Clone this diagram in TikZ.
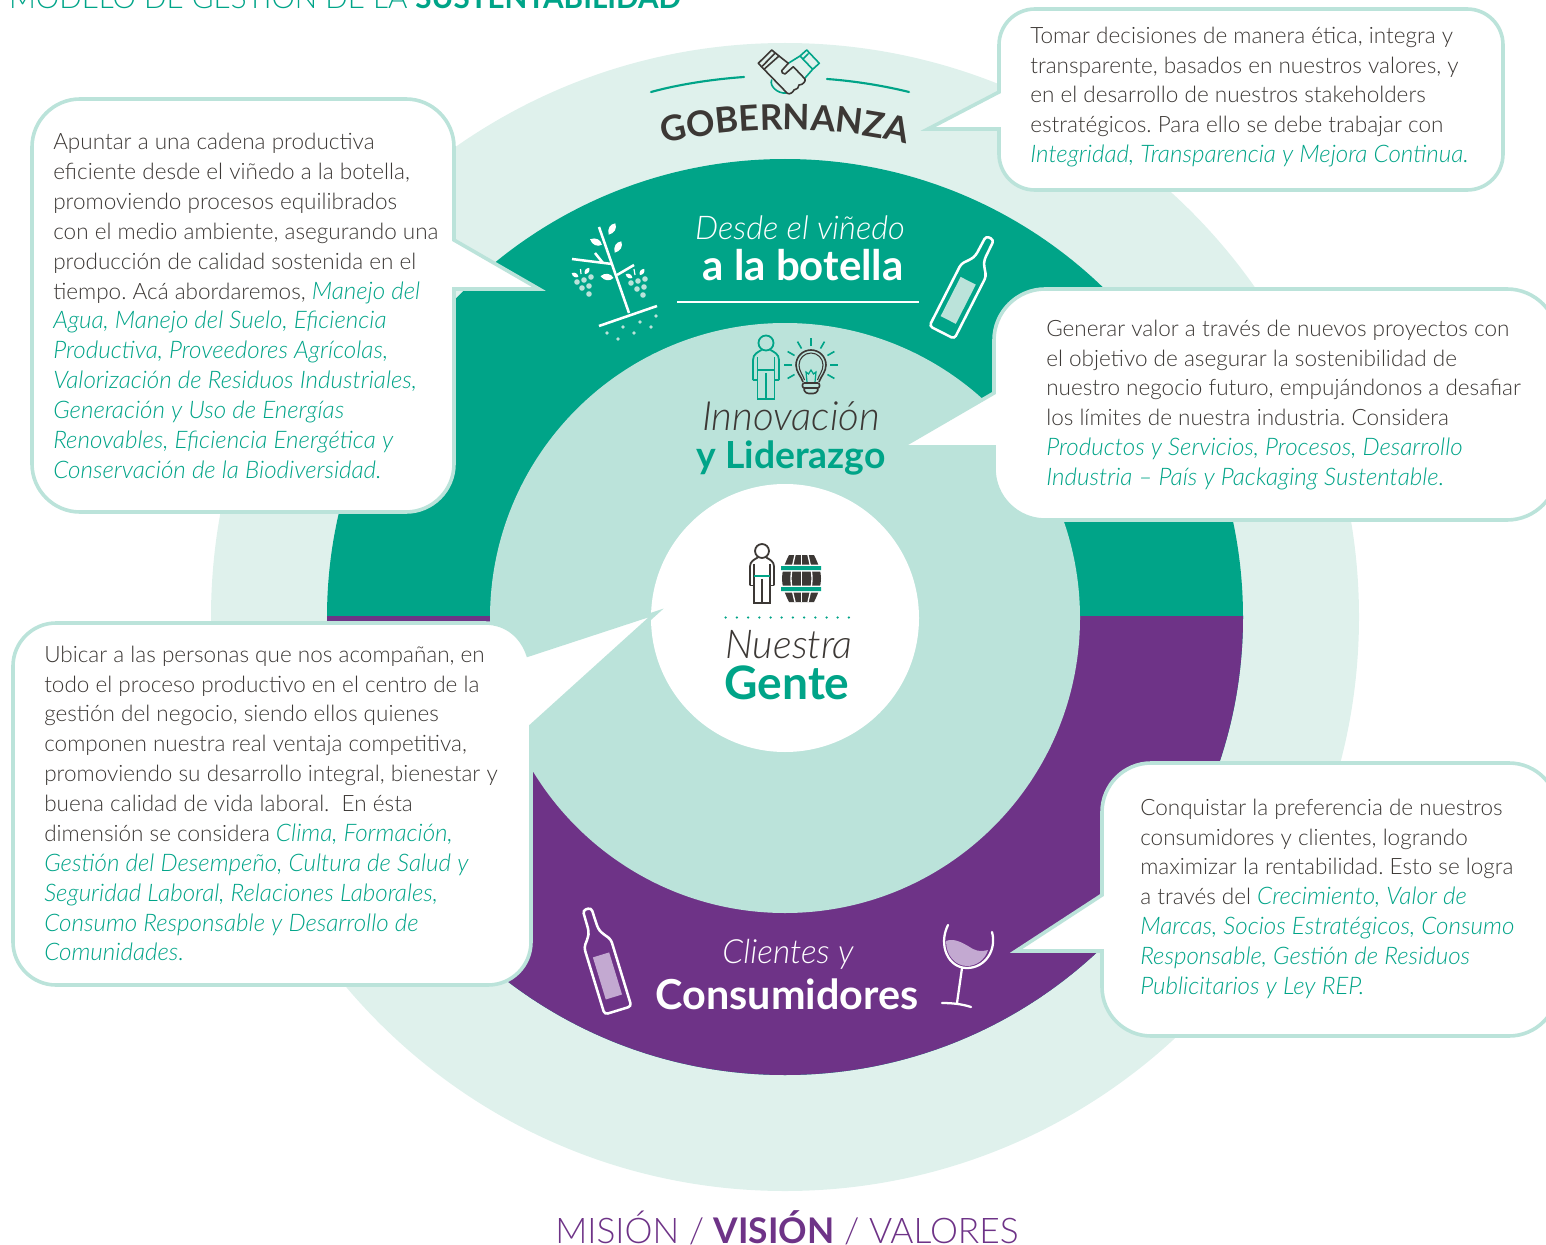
\documentclass[tikz,border=0pt]{standalone}
\usepackage{fontspec}
\usetikzlibrary{decorations.text}
\setmainfont{Lato}
\newfontfamily\lightf{Lato Light}[ItalicFont={Lato Light Italic}]
\newfontfamily\boldf{Lato}[UprightFont=*-Bold]
\definecolor{pale}{HTML}{DFF1EC}
\definecolor{mint}{HTML}{BBE3DA}
\definecolor{teal}{HTML}{00A488}
\definecolor{plum}{HTML}{6E3387}
\definecolor{ink}{HTML}{3C3835}
\definecolor{lilac}{HTML}{C3A9D1}
\frenchspacing
\newcommand{\tl}[1]{{\color{teal}\itshape\fontsize{18.15pt}{22.4pt}\selectfont #1}}
\newcommand{\hs}{\rule{0pt}{20pt}}
\newcommand{\leaflet}[4]{\fill[#4,shift={(#1,#2)},rotate=#3] (-6.5,0) .. controls (-2.5,-4.4) and (3.5,-4.2) .. (6.5,0) .. controls (3.5,4.2) and (-2.5,4.4) .. (-6.5,0) -- cycle;}
\newcommand{\smallleaf}[4]{\fill[#4,shift={(#1,#2)},rotate=#3] (-3.8,0) .. controls (-1.5,-2.8) and (2,-2.6) .. (3.8,0) .. controls (2,2.6) and (-1.5,2.8) .. (-3.8,0) -- cycle;}
\newcommand{\bottleicon}[5]{%
 \begin{scope}[shift={(#1,#2)},rotate=#3]
  \draw[#4,line width=1.9pt,rounded corners=2.5pt,fill=none] (-4.4,0) -- (4.4,0) -- (4.8,22) -- (7,27) -- (14,36) -- (14,106) -- (-14,106) -- (-14,36) -- (-7,27) -- (-4.8,22) -- cycle;
  \fill[#5] (-8.5,48) rectangle (8.5,92);
 \end{scope}}
\newcommand{\personicon}[5]{%
 \begin{scope}[shift={(#1,#2)},scale=#3,#4,line width=1.35pt,fill=none]
  \draw (0,0) circle (7.5);
  \draw (-13,37) -- (-13,17) .. controls (-13,11) and (-8,9) .. (-4.5,7) (4.5,7) .. controls (8,9) and (13,11) .. (13,17) -- (13,37);
  \draw (-13,37) -- (-8.5,37) (13,37) -- (8.5,37);
  \draw (-8.5,14) -- (-8.5,56) -- (8.5,56) -- (8.5,14);
  \draw (0,30) -- (0,56);
  \draw[#5,line width=1.6pt] (-8.5,27) -- (8.5,27);
 \end{scope}}
\tikzset{
  callout/.style={fill=white,draw=mint,line width=2.7pt,line join=miter,miter limit=12},
  bodytext/.style={anchor=north west,inner sep=0pt,align=left,text=ink,font=\lightf\fontsize{16.9pt}{22.4pt}\selectfont},
  heading/.style={anchor=base,inner sep=0pt},
  thinital/.style={font=\lightf\itshape\fontsize{24.5pt}{28pt}\selectfont},
}
\begin{document}
\begin{tikzpicture}[x=0.75pt,y=-0.75pt]
\useasboundingbox (0,0) rectangle (1546,1245);
% discs
\fill[pale] (785,617) circle (574);
\fill[teal] (785,617) circle (458);
\begin{scope}
 \clip (300,616) rectangle (1300,1100);
 \fill[plum] (785,617) circle (458);
\end{scope}
\fill[mint] (785,618) circle (295);
\fill[white] (785,618) circle (134);
% title texts
\node[heading,text=teal,font=\lightf\fontsize{22.2pt}{26pt}\selectfont] (title) at (345,9) {MODELO DE GESTIÓN DE LA {\boldf SUSTENTABILIDAD}};
\node[heading,text=plum,font=\lightf\fontsize{26.5pt}{30pt}\selectfont] (mvv) at (787,1243) {MISIÓN / {\boldf VISIÓN} / VALORES};
% gobernanza
\draw[teal,line width=1.6pt,line cap=round] (651,92) .. controls (680,84) and (715,79) .. (744,77);
\draw[teal,line width=1.6pt,line cap=round] (827,79) .. controls (855,81) and (885,86) .. (909,92);
\path[decorate,decoration={text along path,text color=ink,text align=center,text={|\boldf\fontsize{26.5pt}{30pt}\selectfont|GOBERNANZA}}] (650,148) .. controls (725,124) and (845,124) .. (920,148);
% handshake
\begin{scope}[line width=1.2pt,line join=round,line cap=round]
 \draw[teal] (800,56) -- (806.7,50) -- (819.3,63.3) -- (812.7,69.3) -- cycle (803,59) -- (808,54) (812.7,69.3) -- (805,78) (800,56) -- (788.3,63.3);
 \draw[teal] (771.7,80) .. controls (769,86) and (778,94) .. (786,93);
 \draw[ink] (758.3,63.3) -- (771.7,50) -- (779,56) -- (764,69.3) -- cycle (762.7,65.7) -- (775,53.3);
 \draw[ink] (764,69.3) -- (787.3,93.3) .. controls (790,95) and (793,92) .. (794,90) .. controls (797,90) and (799,87) .. (799,85) .. controls (803,85) and (806,81) .. (805,79) -- (793.3,66.7) -- (785,74) .. controls (783,74) and (781,72) .. (781.7,70.7) -- (788.3,63.3) -- (779,56);
\end{scope}
% plant
\begin{scope}[white,line width=1.9pt]
 \draw (599,227) -- (629,313);
 \draw (572,259) -- (612,264);
 \draw (595,253) -- (603,263);
 \draw (617,275) -- (634,265);
 \draw (599,326) -- (657,306);
\end{scope}
\leaflet{612}{229}{60}{white}
\leaflet{596}{242}{-25}{white}
\leaflet{618}{247}{60}{white}
\leaflet{607}{277}{-8}{white}
\smallleaf{575}{275}{-30}{white}
\smallleaf{587}{271}{55}{white}
\smallleaf{629}{276}{-30}{white}
\smallleaf{642}{272}{55}{white}
\draw[white,line width=0.9pt] (580.5,269) -- (581,274) (634,269) -- (635,275);
\foreach \a/\b in {577/282,584/280,591/277,582/288,589/286,589/294,631/283,638/281,645/279,637/289,644/287,643/295}
  \fill[mint] (\a,\b) circle (2.8);
\foreach \a/\b in {607/333,618/339,623/327,634/333,640/322,651/327,656/316}
  \fill[mint] (\a,\b) circle (1.8);
% ring labels
\bottleicon{990}{238}{-27}{white}{mint}
\node[heading,thinital,text=white] (desde) at (800,239) {Desde el viñedo};
\node[heading,text=white,font=\boldf\fontsize{31.5pt}{34pt}\selectfont] (botella) at (803,280) {a la botella};
\coordinate (ruleL) at (677,302);
\coordinate (ruleR) at (919,302);
\draw[white,line width=1.8pt] (ruleL) -- (ruleR);
% innovation
\personicon{766}{343}{1}{teal}{teal}
\begin{scope}[line width=1.2pt]
 \foreach \ang in {-90,-60,-120,-30,-150,0,180,30,150}
   \draw[teal] (811,365)+(\ang:19) -- +(\ang:27);
 \draw[ink] (803,382) .. controls (801,376) and (796,372) .. (796,365) arc[start angle=180,end angle=360,radius=15] .. controls (826,372) and (821,376) .. (819,382);
 \draw[ink,line width=0.8pt] (804.5,380) .. controls (803,375) and (799,371) .. (799,365) arc[start angle=180,end angle=360,radius=12] .. controls (823,371) and (819,375) .. (817.5,380);
 \draw[teal,line width=0.9pt] (807,382) -- (806,372) -- (808.5,374) -- (811,370) -- (813.5,374) -- (816,372) -- (815,382);
 \draw[ink,rounded corners=1.5pt] (802.5,383) -- (819.5,383) -- (819.5,388) -- (802.5,388) -- cycle;
 \draw[ink,rounded corners=2pt] (803,388) -- (819,388) -- (816,393.5) -- (806,393.5) -- cycle;
\end{scope}
\node[heading,text=ink,font=\lightf\itshape\fontsize{30.2pt}{32pt}\selectfont] (innov) at (791,430) {Innovación};
\node[heading,text=teal,font=\boldf\fontsize{28pt}{30pt}\selectfont] (lider) at (791,468) {y Liderazgo};
% centre
\personicon{762}{551}{0.93}{ink}{teal}
\fill[ink] (789,555) -- (814,555) .. controls (819,565) and (821,572) .. (821,578.5) .. controls (821,585) and (819,592) .. (814,602) -- (789,602) .. controls (784,592) and (782,585) .. (782,578.5) .. controls (782,572) and (784,565) .. (789,555) -- cycle;
\draw[white,line width=1pt] (795,555) .. controls (792,568) and (791,573) .. (791,578.5) .. controls (791,584) and (792,590) .. (795,602);
\draw[white,line width=1pt] (801.5,555) -- (801.5,602);
\draw[white,line width=1pt] (808,555) .. controls (811,568) and (812,573) .. (812,578.5) .. controls (812,584) and (811,590) .. (808,602);
\fill[white] (780,564.5) rectangle (822,571.5) (780,585.5) rectangle (822,592.5);
\fill[teal] (781,566) rectangle (821,570) (781,587) rectangle (821,591);
\foreach \k in {0,...,11}
  \fill[teal] ({725.7+11.2*\k},617.5) circle (1.25);
\node[heading,text=ink,font=\lightf\itshape\fontsize{29.8pt}{32pt}\selectfont] (nuestra) at (789,658) {Nuestra};
\node[heading,text=teal,font=\boldf\fontsize{34.6pt}{36pt}\selectfont] (gente) at (787,699) {Gente};
% consumers
\bottleicon{587}{909}{17}{white}{lilac}
\node[heading,text=white,font=\lightf\itshape\fontsize{25pt}{28pt}\selectfont] (clientes) at (788,963) {Clientes y};
\node[heading,text=white,font=\boldf\fontsize{31pt}{34pt}\selectfont] (consum) at (787,1009) {Consumidores};
\fill[lilac] (946,941) .. controls (955,937) and (966,945) .. (973,949) .. controls (979,952) and (984,951) .. (988,950) .. controls (985,960) and (976,966) .. (967,966) .. controls (955,966) and (946,955) .. (946,941) -- cycle;
\draw[white,line width=1.7pt,line cap=round] (948,925) .. controls (938,945) and (948,968) .. (967,968) .. controls (985,968) and (997,950) .. (992,932);
\draw[white,line width=1.7pt,line cap=round] (962,968) -- (957,1003) (942,1003) .. controls (952,1003) and (962,1004) .. (971,1007);
% callouts
\draw[callout] (80,99) -- (406,99) .. controls (432.4,99) and (454,120.6) .. (454,147) -- (454,240) -- (539,289) -- (454,289) -- (454,464) .. controls (454,490.4) and (432.4,512) .. (406,512) -- (80,512) .. controls (53.6,512) and (32,490.4) .. (32,464) -- (32,147) .. controls (32,120.6) and (53.6,99) .. (80,99) -- cycle;
\draw[callout] (1035,9) -- (1467,9) .. controls (1487,9) and (1503,25) .. (1503,45) -- (1503,154) .. controls (1503,174) and (1487,190) .. (1467,190) -- (1035,190) .. controls (1015,190) and (999,174) .. (999,154) -- (999,129) -- (928,129) -- (999,92) -- (999,45) .. controls (999,25) and (1015,9) .. (1035,9) -- cycle;
\draw[callout] (1045,289) -- (1507,289) .. controls (1535,289) and (1558,312) .. (1558,340) -- (1558,469) .. controls (1558,497) and (1535,520) .. (1507,520) -- (1045,520) .. controls (1017,520) and (994,497) .. (994,469) -- (994,447) -- (901,447) -- (994,393) -- (994,340) .. controls (994,312) and (1017,289) .. (1045,289) -- cycle;
\draw[callout] (56,623) -- (485,623) .. controls (507,623) and (522,637) .. (528,655) -- (656,613) -- (531,726) -- (531,942) .. controls (531,965.6) and (512,985) .. (488,985) -- (56,985) .. controls (32.4,985) and (13,965.6) .. (13,942) -- (13,666) .. controls (13,642.4) and (32.4,623) .. (56,623) -- cycle;
\draw[callout] (1151,763) -- (1509,763) .. controls (1536,763) and (1558,785) .. (1558,812) -- (1558,987) .. controls (1558,1014) and (1536,1036) .. (1509,1036) -- (1151,1036) .. controls (1124,1036) and (1102,1014) .. (1102,987) -- (1102,951) -- (1016,951) -- (1102,895) -- (1102,812) .. controls (1102,785) and (1124,763) .. (1151,763) -- cycle;
% callout texts (top edge = first baseline - 26.7px)
\node[bodytext] (t1) at (53,122.8) {\hs Apuntar a una cadena productiva\\
eficiente desde el viñedo a la botella,\\
promoviendo procesos equilibrados\\
con el medio ambiente, asegurando una\\
producción de calidad sostenida en el\\
tiempo. Acá abordaremos, \tl{Manejo del}\\
\tl{Agua, Manejo del Suelo, Eficiencia}\\
\tl{Productiva, Proveedores Agrícolas,}\\
\tl{Valorización de Residuos Industriales,}\\
\tl{Generación y Uso de Energías}\\
\tl{Renovables, Eficiencia Energética y}\\
\tl{Conservación de la Biodiversidad.}};
\node[bodytext] (t2) at (1030,16.3) {\hs Tomar decisiones de manera ética, integra y\\
transparente, basados en nuestros valores, y\\
en el desarrollo de nuestros stakeholders\\
estratégicos. Para ello se debe trabajar con\\
\tl{Integridad, Transparencia y Mejora Continua.}};
\node[bodytext] (t3) at (1046,309.3) {\hs Generar valor a través de nuevos proyectos con\\
el objetivo de asegurar la sostenibilidad de\\
nuestro negocio futuro, empujándonos a desafiar\\
los límites de nuestra industria. Considera\\
\tl{Productos y Servicios, Procesos, Desarrollo}\\
\tl{Industria – País y Packaging Sustentable.}};
\node[bodytext] (t4) at (44,635.3) {\hs Ubicar a las personas que nos acompañan, en\\
todo el proceso productivo en el centro de la\\
gestión del negocio, siendo ellos quienes\\
componen nuestra real ventaja competitiva,\\
promoviendo su desarrollo integral, bienestar y\\
buena calidad de vida laboral.\ \ En ésta\\
dimensión se considera \tl{Clima, Formación,}\\
\tl{Gestión del Desempeño, Cultura de Salud y}\\
\tl{Seguridad Laboral, Relaciones Laborales,}\\
\tl{Consumo Responsable y Desarrollo de}\\
\tl{Comunidades.}};
\node[bodytext] (t5) at (1140,788.3) {\hs Conquistar la preferencia de nuestros\\
consumidores y clientes, logrando\\
maximizar la rentabilidad. Esto se logra\\
a través del \tl{Crecimiento, Valor de}\\
\tl{Marcas, Socios Estratégicos, Consumo}\\
\tl{Responsable, Gestión de Residuos}\\
\tl{Publicitarios y Ley REP.}};
\end{tikzpicture}
\end{document}
